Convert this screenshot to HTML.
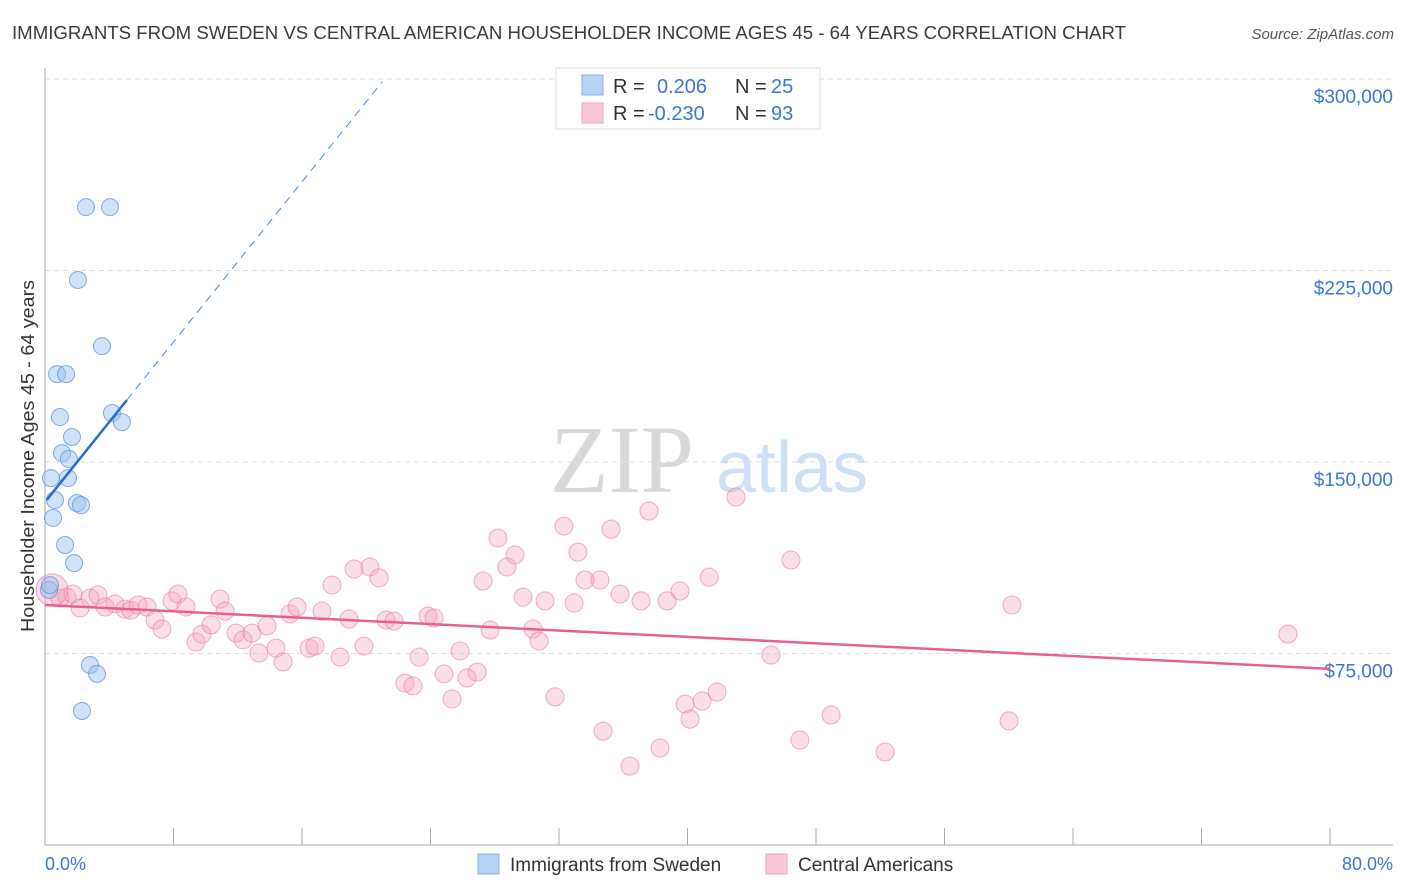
<!DOCTYPE html>
<html><head><meta charset="utf-8">
<style>
body{margin:0;background:#fff;width:1406px;height:892px;overflow:hidden;font-family:"Liberation Sans",sans-serif;}
svg{position:absolute;left:0;top:0;}
</style></head>
<body>
<svg width="1406" height="892" xmlns="http://www.w3.org/2000/svg">
<text x="12" y="39" font-size="18" fill="#3a3a3a" textLength="1114" lengthAdjust="spacingAndGlyphs">IMMIGRANTS FROM SWEDEN VS CENTRAL AMERICAN HOUSEHOLDER INCOME AGES 45 - 64 YEARS CORRELATION CHART</text>
<text x="1394" y="39" font-size="15" fill="#555" font-style="italic" text-anchor="end">Source: ZipAtlas.com</text>
<text x="550" y="492" font-size="96" fill="#d8d8d8" font-family="Liberation Serif,serif">ZIP</text>
<text x="716" y="492" font-size="72" fill="#cfe0f4">atlas</text>
<text transform="translate(34,632) rotate(-90)" font-size="18" fill="#333" textLength="352" lengthAdjust="spacingAndGlyphs">Householder Income Ages 45 - 64 years</text>
<g id="grid"></g>
<g id="marks"></g>
<g>
<rect x="556" y="68" width="264" height="61" fill="#fff" stroke="#ddd"/>
<rect x="582" y="75" width="21" height="20" fill="#b8d4f5" stroke="#8ab4e8"/>
<rect x="582" y="103" width="21" height="20" fill="#fbc8d8" stroke="#f0a0bc"/>
<text x="613" y="93" font-size="20" fill="#333">R = </text><text x="657" y="93" font-size="20" fill="#3a78d0">0.206</text>
<text x="735" y="93" font-size="20" fill="#333">N = </text><text x="771" y="93" font-size="20" fill="#3a78d0">25</text>
<text x="613" y="120" font-size="20" fill="#333">R = </text><text x="648" y="120" font-size="20" fill="#3a78d0">-0.230</text>
<text x="735" y="120" font-size="20" fill="#333">N = </text><text x="771" y="120" font-size="20" fill="#3a78d0">93</text>
</g>
<text x="45" y="870" font-size="18" fill="#3a78d0">0.0%</text>
<text x="1393" y="870" font-size="18" fill="#3a78d0" text-anchor="end">80.0%</text>
<rect x="478" y="854" width="21" height="20" fill="#b8d4f5" stroke="#8ab4e8"/>
<text x="510" y="871" font-size="19" fill="#333">Immigrants from Sweden</text>
<rect x="766" y="854" width="21" height="20" fill="#fbc8d8" stroke="#f0a0bc"/>
<text x="798" y="871" font-size="19" fill="#333">Central Americans</text>
</svg>
<script>
const yTicks=[75000,150000,225000,300000];
const yTickLabels=["$75,000","$150,000","$225,000","$300,000"];
const xTicks=[0,8,16,24,32,40,48,56,64,72,80];
const swedenX=[2.55,4.05,2.05,3.55,0.75,1.31,4.17,4.79,0.93,1.68,1.06,1.49,0.37,1.43,0.62,1.99,2.24,0.50,1.25,1.81,0.25,0.31,2.80,3.24,2.30];
const swedenY=[249.8,249.8,221.3,195.4,184.4,184.4,169.2,165.6,167.6,159.8,153.5,151.2,143.7,143.7,135.1,133.9,133.1,128.1,117.5,110.4,99.9,101.8,70.5,67.0,52.5];
const centralX=[0.93,1.37,2.18,1.74,2.80,3.30,3.74,4.36,4.98,5.35,5.79,6.35,6.85,7.28,7.91,8.28,8.78,9.40,9.77,10.34,10.90,11.21,11.89,12.33,12.89,13.32,13.82,14.38,14.82,15.25,15.69,16.44,16.81,17.25,17.87,18.37,18.93,19.24,19.86,20.23,20.80,21.23,21.73,22.41,22.91,23.29,23.85,24.22,24.84,25.34,25.84,26.27,26.90,27.27,27.71,28.20,28.76,29.26,29.76,30.38,30.76,31.13,31.75,32.31,32.94,33.18,33.62,34.55,34.74,35.24,35.80,36.42,37.11,37.60,38.29,38.73,39.53,39.85,40.16,40.91,41.35,41.84,43.02,45.20,46.44,47.00,48.94,52.30,60.02,60.20,77.38];
const centralY=[96.7,97.1,92.8,98.3,96.7,97.9,93.2,94.4,92.4,92.0,94.0,93.2,88.1,84.6,95.6,98.3,93.2,79.5,82.6,86.2,96.3,91.6,83.0,80.3,83.0,75.2,85.8,77.1,71.7,90.5,93.2,77.1,77.9,91.6,101.8,73.6,88.5,108.1,77.9,108.9,104.6,88.1,87.7,63.4,62.3,73.6,89.7,88.9,67.0,57.2,76.0,65.4,67.7,103.4,84.2,120.2,108.9,113.6,97.1,84.6,79.9,95.6,58.0,124.9,94.8,114.7,103.8,103.8,44.6,123.7,98.3,30.9,95.6,130.8,38.0,95.6,99.5,55.2,49.3,56.4,104.9,59.9,136.3,74.4,111.6,41.1,50.9,36.4,48.6,94.0,82.6];
const bigCentral=[0.44,99.9];
const swedenTrend=[134.3,7.84];
const centralTrend=[94.0,-0.3125];

const NS="http://www.w3.org/2000/svg";
const X=v=>45+v/80*1285;
const Y=v=>845-v/75000*191.5;
const Yk=v=>Y(v*1000);
function mk(tag,attrs,parent){const e=document.createElementNS(NS,tag);for(const k in attrs)e.setAttribute(k,attrs[k]);parent.appendChild(e);return e;}
const grid=document.getElementById('grid'),marks=document.getElementById('marks');
yTicks.forEach((t,i)=>{
 let l=mk('line',{x1:45,x2:1393,y1:Y(t),y2:Y(t),stroke:'#ddd','stroke-dasharray':'5,4'},grid);
 
 
 let tx=mk('text',{x:1393,y:Y(t)+24,'font-size':19,fill:'#3a78d0','text-anchor':'end'},grid);
 tx.textContent=yTickLabels[i];
 
 
});
let ax=mk('line',{x1:45,x2:45,y1:68,y2:845,stroke:'#aaa'},grid);


let bx=mk('line',{x1:45,x2:1393,y1:845,y2:845,stroke:'#aaa'},grid);


xTicks.forEach(t=>{
 let l=mk('line',{x1:X(t),x2:X(t),y1:828,y2:845,stroke:'#aaa'},grid);
 
 
});
centralX.forEach((x,i)=>{
 let c=mk('circle',{cx:X(x),cy:Yk(centralY[i]),r:9,fill:'rgba(245,160,190,0.35)',stroke:'rgba(230,120,160,0.6)','stroke-width':1},marks);
 
 
});
let bc=mk('circle',{cx:X(bigCentral[0]),cy:Yk(bigCentral[1]),r:16,fill:'rgba(245,160,190,0.4)',stroke:'rgba(230,120,160,0.6)'},marks);


swedenX.forEach((x,i)=>{
 let c=mk('circle',{cx:X(x),cy:Yk(swedenY[i]),r:8.5,fill:'rgba(150,190,240,0.45)',stroke:'rgba(80,140,220,0.7)','stroke-width':1},marks);
 
 
});
let pt=mk('line',{x1:X(0),y1:Yk(centralTrend[0]),x2:X(80),y2:Yk(centralTrend[0]+centralTrend[1]*80),stroke:'#e8608e','stroke-width':2.5},marks);


let bd=mk('line',{x1:X(5.1),y1:Yk(swedenTrend[0]+swedenTrend[1]*5.1),x2:X(21),y2:Yk(swedenTrend[0]+swedenTrend[1]*21),stroke:'#4a86d8','stroke-width':1,'stroke-dasharray':'8,6'},marks);


let bs=mk('line',{x1:X(0.1),y1:Yk(swedenTrend[0]+swedenTrend[1]*0.1),x2:X(5.1),y2:Yk(swedenTrend[0]+swedenTrend[1]*5.1),stroke:'#2a6ad0','stroke-width':2.5},marks);


</script>
</body></html>
